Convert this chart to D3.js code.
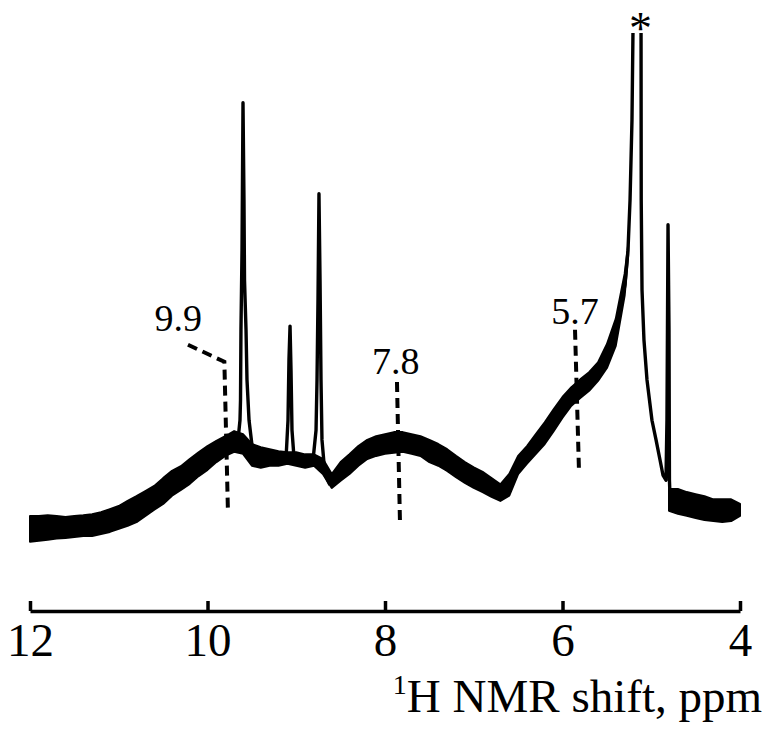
<!DOCTYPE html>
<html lang="en">
<head>
	<meta charset="UTF-8">
	<title>1H NMR spectrum</title>
	<script src="https://d3js.org/d3.v7.min.js"></script>
	<style>
		* { margin: 0px; padding: 0px; }
		body { background: #fff; }
		text { font-family: "Liberation Serif", "Times New Roman", serif; fill: #000; }
	</style>
</head>
<body>
	<svg width="766" height="729"></svg>
	<script>
		var serif = "Liberation Serif";

		// broad baseline band (noise envelope), intensity in arbitrary units
		var bandPpm = [12.0, 11.9, 11.8, 11.7, 11.6, 11.5, 11.4, 11.3, 11.2, 11.1,
			11.0, 10.9, 10.8, 10.7, 10.6, 10.5, 10.4, 10.3, 10.2, 10.1,
			10.0, 9.9, 9.8, 9.7, 9.6, 9.5, 9.4, 9.3, 9.2, 9.1,
			9.0, 8.9, 8.8, 8.7, 8.6, 8.5, 8.4, 8.3, 8.2, 8.1,
			8.0, 7.9, 7.8, 7.7, 7.6, 7.5, 7.4, 7.3, 7.2, 7.1,
			7.0, 6.9, 6.8, 6.7, 6.6, 6.5, 6.4, 6.3, 6.2, 6.1,
			6.0, 5.9, 5.8, 5.7, 5.6, 5.5, 5.4, 5.3, 5.26, 5.0,
			4.8, 4.7, 4.6, 4.5, 4.4, 4.3, 4.2, 4.1, 4.0];
		var bandHigh = [6.6, 6.6, 6.7, 6.6, 6.4, 6.6, 6.7, 6.9, 7.3, 7.9,
			8.5, 9.5, 10.4, 11.4, 12.4, 13.9, 15.3, 16.2, 17.6, 18.9,
			20.1, 21.1, 22.0, 23.0, 22.4, 20.5, 19.9, 19.5, 19.1, 18.9,
			18.9, 18.5, 18.5, 17.6, 14.7, 17.0, 18.5, 20.1, 21.3, 22.0,
			22.4, 22.8, 22.8, 22.4, 22.0, 21.3, 20.5, 19.5, 18.2, 17.0,
			16.0, 15.1, 13.9, 12.7, 14.7, 18.2, 20.1, 22.4, 24.7, 27.2,
			29.6, 31.5, 33.0, 34.4, 36.3, 39.8, 44.7, 53.4, 59.0, null,
			11.8, 11.8, 11.2, 10.8, 10.4, 9.8, 9.8, 9.8, 8.9];
		var bandLow = [1.6, 1.8, 2.0, 2.2, 2.3, 2.5, 2.7, 2.7, 3.1, 3.5,
			4.1, 4.7, 5.4, 6.6, 7.8, 8.9, 10.5, 11.6, 12.8, 14.3,
			15.5, 17.0, 18.2, 19.0, 18.6, 16.3, 15.9, 16.3, 16.3, 16.7,
			16.3, 15.9, 16.3, 14.7, 12.0, 13.4, 14.7, 16.3, 17.6, 18.2,
			18.6, 18.8, 19.0, 18.6, 18.2, 17.0, 16.3, 15.3, 14.1, 13.0,
			12.0, 11.2, 10.3, 9.5, 10.5, 14.7, 16.7, 18.6, 20.5, 23.0,
			25.6, 27.9, 29.4, 30.8, 32.7, 35.2, 39.5, 49.2, 57.0, null,
			7.6, 7.0, 6.6, 6.2, 5.8, 5.6, 5.4, 5.6, 6.6];

		// sharp peaks
		var peak960Ppm = [9.656, 9.634, 9.628, 9.623, 9.611, 9.600, 9.589, 9.583, 9.566, 9.555, 9.532, 9.499, 9.454];
		var peak960Int = [21.3, 25.1, 29.0, 42.6, 58.0, 86.5, 67.7, 52.2, 42.6, 32.9, 25.1, 20.3, 17.8];
		var peak907Ppm = [9.115, 9.093, 9.082, 9.070, 9.059, 9.048, 9.025];
		var peak907Int = [17.8, 25.1, 36.8, 43.3, 34.8, 23.2, 17.8];
		var peak874Ppm = [8.811, 8.777, 8.766, 8.755, 8.744, 8.732, 8.721, 8.710, 8.676, 8.620];
		var peak874Int = [17.4, 23.2, 32.9, 48.4, 68.9, 52.2, 32.9, 21.3, 14.5, 12.6];
		// off-scale peak (*) and the 4.81 line; null = above the plotted range
		var peak510Ppm = [5.40, 5.35, 5.296, 5.262, 5.239, 5.217, 5.206, 5.16, 5.115, 5.113, 5.104, 5.082, 5.048,
			4.992, 4.946, 4.901, 4.868, 4.834, 4.823, 4.811, 4.800, 4.795, 4.789, 4.75];
		var peak510Int = [42.0, 46.4, 51.3, 58.0, 67.7, 83.2, 100, null, 100, 67.7, 50.3, 40.6, 32.9,
			25.1, 21.3, 17.4, 14.5, 13.5, 25.1, 62.9, 42.6, 13.5, 10.6, 9.7];

		var tickValues = [12, 10, 8, 6, 4];

		// dashed markers: label, label anchor, leader path
		var markLabels = ["9.9", "7.8", "5.7"];
		var markText = [[10.33, 42.4], [7.88, 34.0], [5.86, 43.7]];
		var markPaths = [
			[[10.22, 39.7], [9.81, 36.4], [9.77, 7.7]],
			[[7.865, 32.5], [7.831, 5.2]],
			[[5.859, 42.6], [5.814, 15.1]]
		];

		var svg = d3.select("svg");
		var x = d3.scaleLinear().domain([12, 4]).range([30, 740]);
		var y = d3.scaleLinear().domain([0, 100]).range([550, 33]);

		var band = bandPpm.map(function (p, i) { return { p: p, hi: bandHigh[i], lo: bandLow[i] }; });
		var area = d3.area()
			.defined(function (d) { return d.hi != null; })
			.x(function (d) { return x(d.p); })
			.y0(function (d) { return y(d.lo); })
			.y1(function (d) { return y(d.hi); });

		svg.append("path")
			.datum(band)
			.attr("d", area)
			.attr("fill", "#000")
			.attr("stroke", "#000")
			.attr("stroke-width", 2)
			.attr("stroke-linejoin", "round");

		var line = d3.line()
			.defined(function (d) { return d[1] != null; })
			.x(function (d) { return x(d[0]); })
			.y(function (d) { return y(d[1]); });

		[[peak960Ppm, peak960Int], [peak907Ppm, peak907Int], [peak874Ppm, peak874Int], [peak510Ppm, peak510Int]]
			.forEach(function (pk) {
				var pts = pk[0].map(function (p, i) { return [p, pk[1][i]]; });
				svg.append("path")
					.datum(pts)
					.attr("d", line)
					.attr("fill", "none")
					.attr("stroke", "#000")
					.attr("stroke-width", 3.4)
					.attr("stroke-linejoin", "round");
			});

		// dashed leaders and labels
		markPaths.forEach(function (pts, i) {
			svg.append("path")
				.datum(pts)
				.attr("d", d3.line().x(function (d) { return x(d[0]); }).y(function (d) { return y(d[1]); }))
				.attr("fill", "none")
				.attr("stroke", "#000")
				.attr("stroke-width", 4)
				.attr("stroke-dasharray", "10,6");
			svg.append("text")
				.attr("x", x(markText[i][0]))
				.attr("y", y(markText[i][1]))
				.attr("text-anchor", "middle")
				.attr("font-family", serif)
				.attr("font-size", 38)
				.text(markLabels[i]);
		});

		svg.append("text")
			.attr("x", x(5.12))
			.attr("y", 44)
			.attr("text-anchor", "middle")
			.attr("font-family", serif)
			.attr("font-size", 46)
			.text("*");

		// x axis
		var axis = svg.append("g")
			.attr("transform", "translate(0,611)")
			.call(d3.axisBottom(x).tickValues(tickValues).tickSize(-10).tickSizeOuter(0).tickPadding(12));
		axis.attr("font-family", serif).attr("font-size", 47);
		axis.select(".domain").attr("stroke", "#000").attr("stroke-width", 3.5);
		axis.selectAll(".tick line").attr("stroke", "#000").attr("stroke-width", 3.5);
		axis.selectAll(".tick text").attr("fill", "#000");

		var xl = svg.append("text")
			.attr("x", 762)
			.attr("y", 712)
			.attr("text-anchor", "end")
			.attr("font-family", serif)
			.attr("font-size", 47);
		xl.append("tspan").attr("dy", -18).attr("font-size", 28).text("1");
		xl.append("tspan").attr("dy", 18).text("H NMR shift, ppm");
	</script>
</body>
</html>
